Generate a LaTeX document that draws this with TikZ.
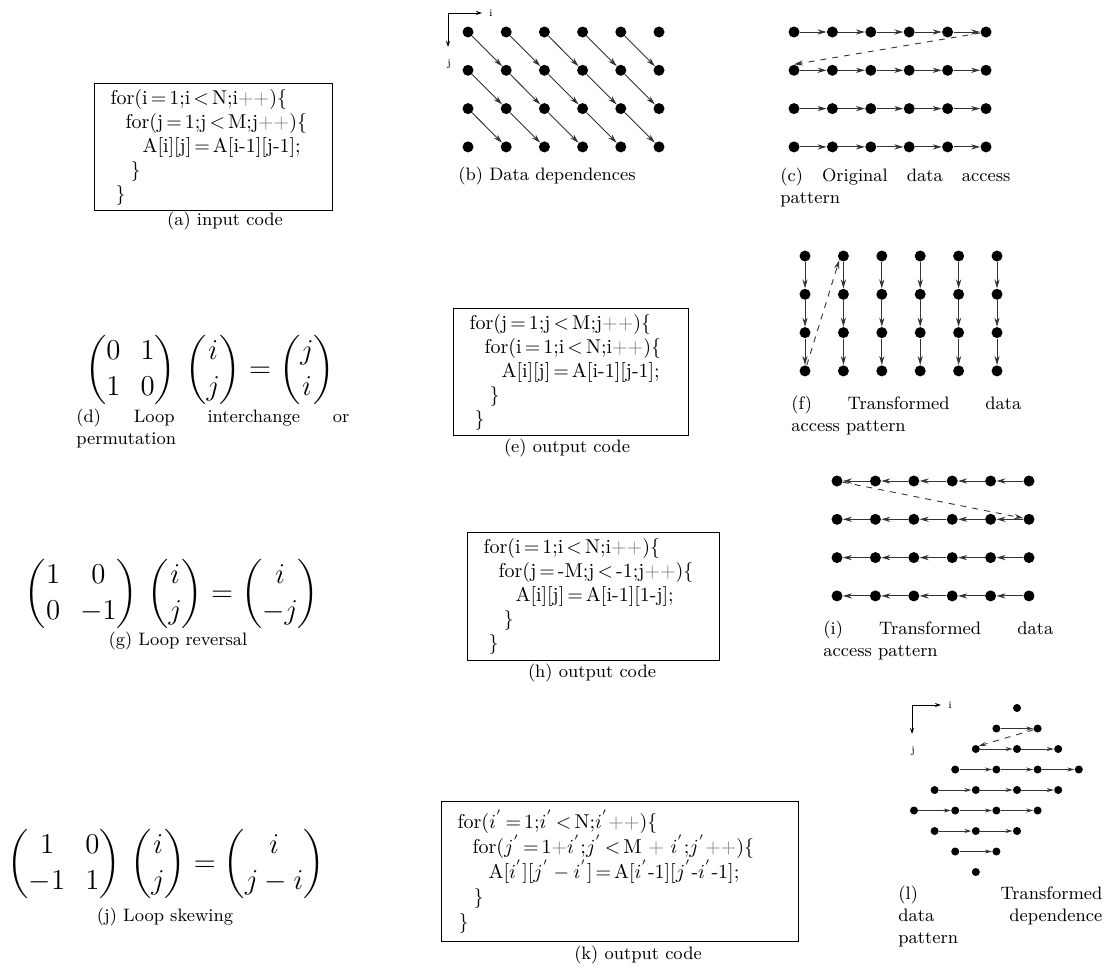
\documentclass[tikz,border=0pt]{standalone}
\usepackage{amsmath}
\usepackage{fontspec}
\usetikzlibrary{arrows.meta,positioning}
\newcommand{\pp}{\textcolor{black!50}{++}}
\newcommand{\pl}{\textcolor{black!50}{+}}
\newcommand{\eqs}{\kern1.5pt=\kern1.5pt}
\newcommand{\lts}{\kern1.5pt<\kern1.5pt}
\newcommand{\nohyph}{\hyphenpenalty10000\exhyphenpenalty10000}
\newcommand{\ijaxes}[4]{\coordinate (#1o) at (#2,#3); \coordinate (#1x) at ({#2+#4},#3); \coordinate (#1y) at (#2,{#3+#4});
\draw[axarr] (#1o) -- (#1x); \draw[axarr] (#1o) -- (#1y);
\node[axlbl] (#1i) at ({#2+#4+9},#3) {i}; \node[axlbl] (#1j) at ({#2+1},{#3+#4+17}) {j};}
\tikzset{
  dot/.style={circle,fill,inner sep=0pt,minimum size=5.5pt},
  sdot/.style={dot,minimum size=4pt},
  dep/.style={-{Stealth[length=4.5pt,width=2.6pt]},black!80,line width=0.45pt},
  sdep/.style={dep,-{Stealth[length=3.5pt,width=2pt]}},
  codebox/.style={draw,line width=0.5pt,align=left,anchor=north west,inner xsep=8pt,inner ysep=2pt,font=\normalsize},
  subcap/.style={font={\small\addfontfeature{LetterSpace=8}}},
  capbox/.style={anchor=north west,text width=#1,align=justify,inner sep=0pt,font={\small\addfontfeature{LetterSpace=8}\nohyph}},
  axarr/.style={-{Stealth[length=3pt,width=2pt]},line width=0.4pt},
  axlbl/.style={font=\tiny,inner sep=0pt}
}
\begin{document}
\begin{tikzpicture}[x=0.5pt,y=-0.5pt]
\useasboundingbox (0,0) rectangle (1106,969);
% code boxes
\node[codebox,text width=103pt,minimum height=63.5pt] (codeA) at (94,83) {for(i\eqs1;i\lts N;i\pp)\{\\
\hspace*{7.5pt}for(j\eqs1;j\lts M;j\pp)\{\\
\hspace*{16pt}A[i][j]\eqs A[i-1][j-1];\\
\hspace*{10pt}\}\\
\hspace*{2.5pt}\}};
\node[codebox,text width=101.5pt,minimum height=63.5pt] (codeE) at (453,308) {for(j\eqs1;j\lts M;j\pp)\{\\
\hspace*{7.5pt}for(i\eqs1;i\lts N;i\pp)\{\\
\hspace*{16pt}A[i][j]\eqs A[i-1][j-1];\\
\hspace*{10pt}\}\\
\hspace*{2.5pt}\}};
\node[codebox,text width=110pt,minimum height=64pt] (codeH) at (467,532) {for(i\eqs1;i\lts N;i\pp)\{\\
\hspace*{7.5pt}for(j\eqs-M;j\lts-1;j\pp)\{\\
\hspace*{16pt}A[i][j]\eqs A[i-1][1-j];\\
\hspace*{10pt}\}\\
\hspace*{2.5pt}\}};
\node[codebox,text width=162.5pt,minimum height=70pt] (codeK) at (441,801) {for($i^{'}$\eqs1;$i^{'}$\lts N;$i^{'}$\pp)\{\\[0.5pt]
\hspace*{7.5pt}for($j^{'}$\eqs1\pl$i^{'}$;$j^{'}$\lts M \pl\ $i^{'}$;$j^{'}$\pp)\{\\[0.5pt]
\hspace*{15.5pt}A[$i^{'}$][$j^{'}-i^{'}$]\eqs A[$i^{'}$-1][$j^{'}$-$i^{'}$-1];\\[0.5pt]
\hspace*{8pt}\}\\[0.5pt]
\hspace*{0.5pt}\}};
% transformations
\node (eqD) at (210,370) {\Large$\displaystyle\begin{pmatrix}0&1\\1&0\end{pmatrix}\,\begin{pmatrix}i\\j\end{pmatrix}=\begin{pmatrix}j\\i\end{pmatrix}$};
\node (eqG) at (172,594) {\Large$\displaystyle\begin{pmatrix}1&0\\0&-1\end{pmatrix}\,\begin{pmatrix}i\\j\end{pmatrix}=\begin{pmatrix}i\\-j\end{pmatrix}$};
\node (eqJ) at (166,864) {\Large$\displaystyle\begin{pmatrix}1&0\\-1&1\end{pmatrix}\,\begin{pmatrix}i\\j\end{pmatrix}=\begin{pmatrix}i\\j-i\end{pmatrix}$};
% (b) dependences
\ijaxes{b}{448}{13}{34}
\foreach \u in {0,...,5}
  \foreach \v in {0,...,3}
    \node[dot] (b\u\v) at ({468+38.2*\u},{32+38.3*\v}) {};
\foreach \u in {0,...,4}
  \foreach \v in {0,...,2}{
    \pgfmathtruncatemacro\uu{\u+1}\pgfmathtruncatemacro\vv{\v+1}
    \draw[dep] (b\u\v) -- (b\uu\vv);}
% (c) original order
\foreach \u in {0,...,5}
  \foreach \v in {0,...,3}
    \node[dot] (c\u\v) at ({794+38.4*\u},{32+38.3*\v}) {};
\foreach \u in {0,...,4}
  \foreach \v in {0,...,3}{
    \pgfmathtruncatemacro\uu{\u+1}
    \draw[dep] (c\u\v) -- (c\uu\v);}
\draw[dep,dashed] (c50) -- (c01.north);
% (f) interchanged
\foreach \u in {0,...,5}
  \foreach \v in {0,...,3}
    \node[dot] (f\u\v) at ({805+38.4*\u},{256+38.3*\v}) {};
\foreach \u in {0,...,5}
  \foreach \v in {0,...,2}{
    \pgfmathtruncatemacro\vv{\v+1}
    \draw[dep] (f\u\v) -- (f\u\vv);}
\draw[dep,dashed] (f03) -- (f10.south west);
% (i) reversed
\foreach \u in {0,...,5}
  \foreach \v in {0,...,3}
    \node[dot] (i\u\v) at ({837+38.4*\u},{481+38.3*\v}) {};
\foreach \u in {0,...,4}
  \foreach \v in {0,...,3}{
    \pgfmathtruncatemacro\uu{\u+1}
    \draw[dep] (i\uu\v) -- (i\u\v);}
\draw[dep,dashed] (i00) -- (i51);
% (l) skewed
\ijaxes{l}{912}{705}{29}
\foreach \u in {0,...,5}
  \foreach \v in {0,...,3}
    \node[sdot] (l\u\v) at ({914+20.6*(5-\u+\v)},{708+20.5*(\u+\v)}) {};
\foreach \u in {1,...,5}
  \foreach \v in {0,...,2}{
    \pgfmathtruncatemacro\uu{\u-1}\pgfmathtruncatemacro\vv{\v+1}
    \draw[sdep] (l\u\v) -- (l\uu\vv);}
\draw[sdep,dashed] (l01) -- (l20.north east);
% captions
\node[subcap] (capA) at (225,221) {(a) input code};
\node[subcap] (capB) at (547,176) {(b) Data dependences};
\node[capbox=115pt] (capC) at (780,168) {(c) Original data access\linebreak pattern};
\node[capbox=136.5pt] (capD) at (76,409) {(d) Loop interchange or\linebreak permutation};
\node[subcap] (capE) at (567,448) {(e) output code};
\node[capbox=115pt] (capF) at (791,396) {(f) Transformed data\linebreak access pattern};
\node[subcap] (capG) at (178,641) {(g) Loop reversal};
\node[subcap] (capH) at (592,673) {(h) output code};
\node[capbox=115pt] (capI) at (823,621) {(i) Transformed data\linebreak access pattern};
\node[subcap] (capJ) at (165,917) {(j) Loop skewing};
\node[subcap] (capK) at (638,955) {(k) output code};
\node[capbox=102pt] (capL) at (898,886) {(l) Transformed\linebreak data dependence\linebreak pattern};
\end{tikzpicture}
\end{document}
